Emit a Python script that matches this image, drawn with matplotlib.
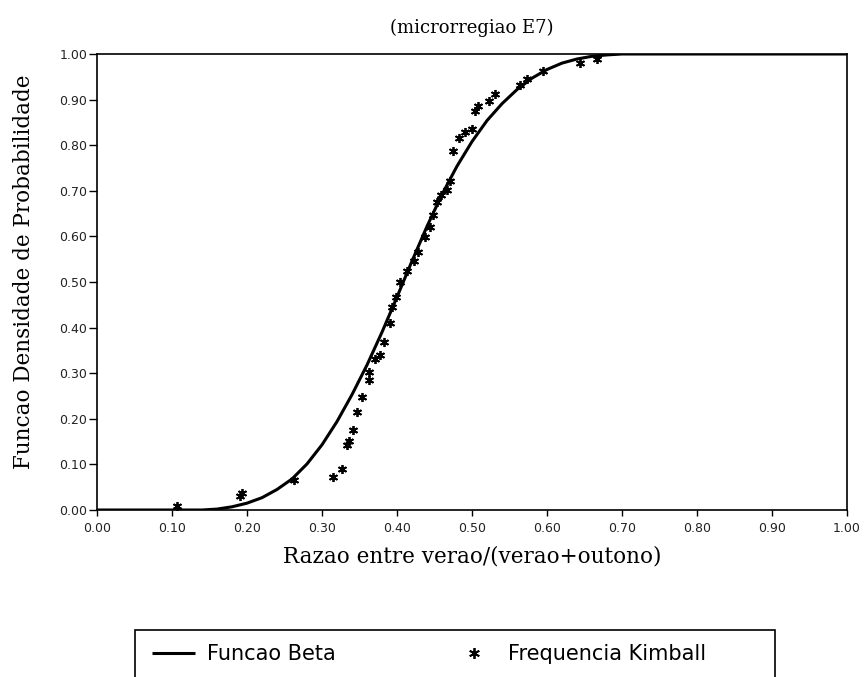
import matplotlib
matplotlib.use("Agg")
import matplotlib.pyplot as plt
from matplotlib.patches import Rectangle

# Fitted Beta CDF
beta_x = [0.00, 0.10, 0.14, 0.16, 0.18, 0.20, 0.22, 0.24, 0.26, 0.28, 0.30,
          0.32, 0.34, 0.36, 0.38, 0.40, 0.42, 0.44, 0.46, 0.48, 0.50, 0.52,
          0.54, 0.56, 0.58, 0.60, 0.62, 0.64, 0.66, 0.68, 0.70, 0.72, 1.00]
beta_y = [0.000, 0.000, 0.000, 0.002, 0.007, 0.015, 0.027, 0.045, 0.068, 0.101, 0.143,
          0.194, 0.253, 0.318, 0.390, 0.467, 0.546, 0.622, 0.692, 0.754, 0.808, 0.854,
          0.891, 0.922, 0.947, 0.966, 0.980, 0.989, 0.995, 0.998, 1.000, 1.000, 1.000]

# Kimball empirical frequencies
kim_x = [0.107, 0.190, 0.193, 0.262, 0.315, 0.326, 0.333, 0.336, 0.341, 0.346,
         0.353, 0.362, 0.363, 0.371, 0.377, 0.383, 0.391, 0.393, 0.398, 0.404,
         0.413, 0.422, 0.428, 0.437, 0.444, 0.448, 0.453, 0.458, 0.466, 0.471,
         0.475, 0.482, 0.491, 0.500, 0.504, 0.508, 0.522, 0.531, 0.564, 0.573,
         0.595, 0.644, 0.666]
kim_y = [0.008, 0.030, 0.038, 0.066, 0.073, 0.091, 0.142, 0.152, 0.176, 0.214,
         0.248, 0.284, 0.302, 0.332, 0.340, 0.368, 0.409, 0.445, 0.467, 0.500,
         0.525, 0.547, 0.565, 0.598, 0.620, 0.646, 0.675, 0.690, 0.702, 0.722,
         0.788, 0.815, 0.828, 0.835, 0.875, 0.886, 0.897, 0.912, 0.932, 0.945,
         0.962, 0.980, 0.990]

xticks = [0.0, 0.1, 0.2, 0.3, 0.4, 0.5, 0.6, 0.7, 0.8, 0.9, 1.0]
yticks = [0.0, 0.1, 0.2, 0.3, 0.4, 0.5, 0.6, 0.7, 0.8, 0.9, 1.0]

title = "(microrregiao E7)"
xlabel = "Razao entre verao/(verao+outono)"
ylabel = "Funcao Densidade de Probabilidade"
legend_labels = ["Funcao Beta", "Frequencia Kimball"]

W, H = 864, 677
fig = plt.figure(figsize=(W / 100, H / 100), dpi=100)
L, R, T, B = 97, 847, 54, 510
ax = fig.add_axes([L / W, 1 - B / H, (R - L) / W, (B - T) / H])

line, = ax.plot(beta_x, beta_y, color="black", lw=2.2, solid_capstyle="butt",
                solid_joinstyle="round")
pts, = ax.plot(kim_x, kim_y, linestyle="none", marker=(6, 2, 0), markersize=6.5,
               markeredgecolor="black", markeredgewidth=1.3, color="black")

ax.set_xlim(0, 1)
ax.set_ylim(0, 1)
ax.set_xticks(xticks)
ax.set_yticks(yticks)
ax.set_xticklabels([f"{v:.2f}" for v in xticks])
ax.set_yticklabels([f"{v:.2f}" for v in yticks])
ax.tick_params(axis="y", direction="out", length=6, width=1.0, pad=1,
               labelsize=9, labelcolor="#222222")
ax.tick_params(axis="x", direction="out", length=4, width=1.0, pad=5,
               labelsize=9, labelcolor="#222222")
for lab in ax.get_xticklabels() + ax.get_yticklabels():
    lab.set_family("DejaVu Sans")
for s in ax.spines.values():
    s.set_linewidth(1.2)
    s.set_color("black")

fig.text((L + R) / 2 / W, 1 - 28 / H, title, ha="center", va="center",
         family="DejaVu Serif", fontsize=13)
fig.text((L + R) / 2 / W, 1 - 556 / H, xlabel, ha="center", va="center",
         family="DejaVu Serif", fontsize=15.5)
fig.text(24 / W, 1 - 272 / H, ylabel, ha="center", va="center", rotation=90,
         family="DejaVu Serif", fontsize=15.5)

# legend box (extends past bottom edge)
fig.patches.append(Rectangle((135 / W, -0.05), (775 - 135) / W, 0.05 + 1 - 630 / H,
                             transform=fig.transFigure, fill=False,
                             edgecolor="black", linewidth=1.2))
leg = fig.legend([line, pts], legend_labels, ncol=2, frameon=False,
                 loc="center left", bbox_to_anchor=(142 / W, 1 - 654 / H),
                 prop={"family": "DejaVu Sans", "size": 15}, borderpad=0,
                 handlelength=2.06, handletextpad=0.58, columnspacing=5.6,
                 markerscale=1.2)

fig.savefig("out.png", dpi=100, facecolor="white")
